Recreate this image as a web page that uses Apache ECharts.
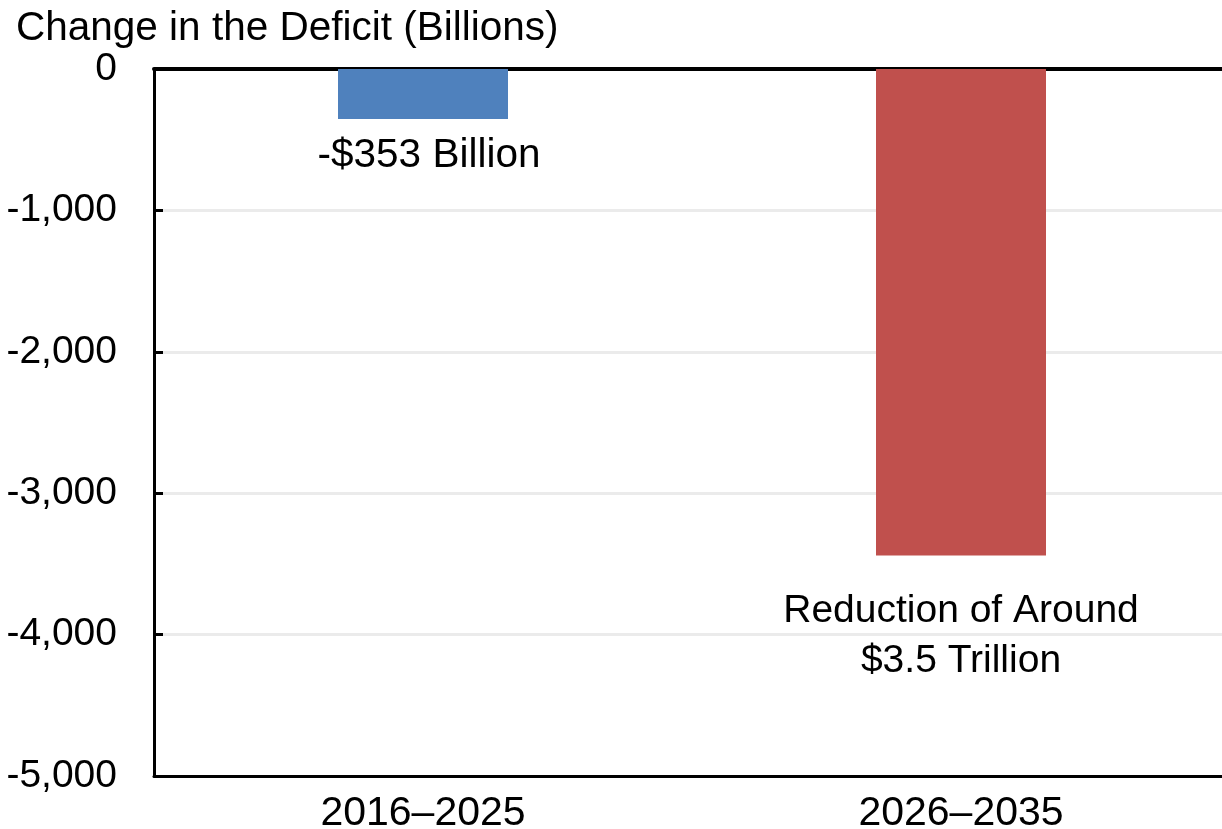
<!DOCTYPE html>
<html>
<head>
<meta charset="utf-8">
<script src="https://cdn.jsdelivr.net/npm/echarts@6/dist/echarts.min.js"></script>
<style>
  html, body { margin: 0; padding: 0; background: #ffffff; overflow: hidden; }
  /* canvas is slightly wider than the page so the plot runs off the right edge */
  #chart { width: 1232px; height: 829px; }
</style>
</head>
<body>
<div id="chart"></div>
<script>
// Periods on the category axis
const periods = ['2016\u20132025', '2026\u20132035'];
// Change in the deficit, billions of dollars
const deficitChange = [-353, -3440];
// Text shown under each bar
const barNotes = ['-$353 Billion', 'Reduction of Around\n$3.5 Trillion'];
// Bar colours
const barColors = ['#4F81BD', '#C0504D'];
// Value axis range
const yMin = -5000, yMax = 0, yStep = 1000;

const FONT = '"Liberation Sans", Arial, sans-serif';
const FS = 39;
const chart = echarts.init(document.getElementById('chart'));

const fmt = v => (v < 0 ? '-' : '') + Math.abs(v).toLocaleString('en-US');

chart.setOption({
  animation: false,
  backgroundColor: '#ffffff',
  title: {
    text: 'Change in the Deficit (Billions)',
    left: 16,
    top: 8,
    padding: 0,
    textStyle: { fontFamily: FONT, fontSize: 40.5, fontWeight: 'normal', color: '#000' }
  },
  grid: { left: 154, right: 2, top: 69, bottom: 53, containLabel: false, outerBoundsMode: 'none' },
  xAxis: [
    {
      type: 'category',
      data: periods,
      position: 'bottom',
      axisLine: { onZero: false, lineStyle: { color: '#000', width: 3 } },
      axisTick: { show: false },
      axisLabel: { fontFamily: FONT, fontSize: 41, color: '#000', margin: 17 }
    },
    {
      type: 'category',
      data: periods,
      position: 'top',
      axisLine: { onZero: false, lineStyle: { color: '#000', width: 4 } },
      axisTick: { show: false },
      axisLabel: { show: false }
    }
  ],
  yAxis: {
    type: 'value',
    min: yMin,
    max: yMax,
    interval: yStep,
    axisLine: { show: true, lineStyle: { color: '#000', width: 3 } },
    axisTick: { show: true, inside: true, length: 9, lineStyle: { color: '#000', width: 3 } },
    axisLabel: { fontFamily: FONT, fontSize: FS, color: '#000', margin: 37, formatter: fmt },
    splitLine: { show: true, lineStyle: { color: '#ebebeb', width: 3 } }
  },
  series: [{
    type: 'bar',
    xAxisIndex: 0,
    barWidth: 170,
    data: deficitChange.map((v, i) => ({
      value: v,
      itemStyle: { color: barColors[i] },
      label: {
        show: true,
        position: 'bottom',
        distance: i === 0 ? 17 : 31,
        offset: i === 0 ? [6, 0] : [0, 0],
        formatter: barNotes[i],
        fontFamily: FONT,
        fontSize: i === 0 ? 40.5 : FS,
        lineHeight: i === 0 ? 40 : 50,
        color: '#000'
      }
    }))
  }]
});
</script>
</body>
</html>
